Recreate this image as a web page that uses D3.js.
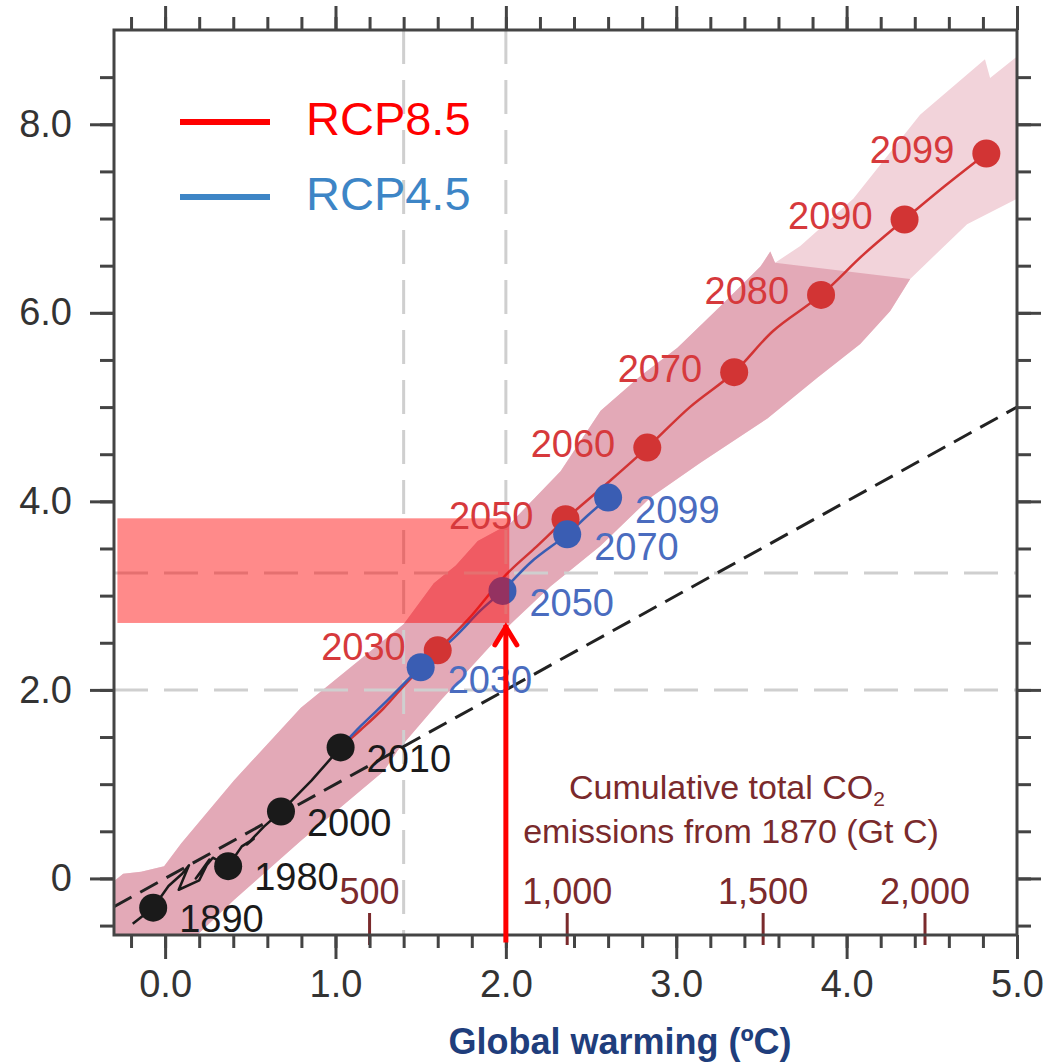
<!DOCTYPE html>
<html><head><meta charset="utf-8">
<script src="https://cdn.jsdelivr.net/npm/d3@7"></script>
<style>
html,body{margin:0;padding:0;background:#fff;}
text{font-family:"Liberation Sans",Arial,Helvetica,sans-serif;}
</style></head>
<body>
<svg id="chart" width="1045" height="1063"></svg>
<script>
// ---------- data ----------
const xMajorTicks = [0, 1, 2, 3, 4, 5];
const xMinorTicks = [-0.2,0,0.2,0.4,0.6,0.8,1,1.2,1.4,1.6,1.8,2,2.2,2.4,2.6,2.8,3,3.2,3.4,3.6,3.8,4,4.2,4.4,4.6,4.8,5];
const yMajorTicks = [0, 2, 4, 6, 8];
const yMajorLabels = ["0", "2.0", "4.0", "6.0", "8.0"];
const yMinorTicks = [-0.5,0,0.5,1,1.5,2,2.5,3,3.5,4,4.5,5,5.5,6,6.5,7,7.5,8,8.5];

const histYears = [1890, 1980, 2000, 2010];
const histX = [-0.07, 0.37, 0.68, 1.03];
const histY = [-0.31, 0.13, 0.71, 1.39];
const histPathX = [-0.19,-0.07,0.02,0.10,0.14,0.08,0.20,0.26,0.18,0.28,0.37,0.45,0.52,0.48,0.58,0.68,0.86,1.03];
const histPathY = [-0.48,-0.31,-0.08,0.05,0.14,-0.12,-0.02,0.20,0.00,0.22,0.13,0.34,0.42,0.36,0.55,0.71,1.04,1.39];

const rcp85Years = [2030, 2050, 2060, 2070, 2080, 2090, 2099];
const rcp85X = [1.60, 2.35, 2.83, 3.34, 3.85, 4.34, 4.82];
const rcp85Y = [2.42, 3.81, 4.57, 5.37, 6.19, 6.99, 7.69];
const rcp85PathX = [1.03,1.15,1.28,1.42,1.60,1.78,2.00,2.18,2.35,2.60,2.83,3.08,3.34,3.57,3.85,4.10,4.34,4.58,4.82];
const rcp85PathY = [1.39,1.58,1.80,2.08,2.42,2.75,3.22,3.52,3.81,4.20,4.57,5.00,5.37,5.81,6.19,6.62,6.99,7.35,7.69];

const rcp45Years = [2030, 2050, 2070, 2099];
const rcp45X = [1.50, 1.98, 2.36, 2.60];
const rcp45Y = [2.24, 3.05, 3.65, 4.04];
const rcp45PathX = [1.03,1.15,1.30,1.50,1.70,1.85,1.98,2.15,2.36,2.48,2.60];
const rcp45PathY = [1.39,1.62,1.88,2.24,2.56,2.84,3.05,3.36,3.65,3.85,4.04];

const plumeUpperX = [-0.293,-0.246,-0.141,-0.006,0.094,0.404,0.797,1.401,1.577,1.706,1.835,2.028,2.321,2.556,2.79,3.007,3.259,3.494,3.552,3.58,3.728,4.039,4.431,4.812,4.842,5.0];
const plumeUpperY = [-0.02,0.05,0.07,0.13,0.37,1.04,1.81,2.70,3.13,3.32,3.58,3.77,4.32,4.96,5.33,5.63,6.07,6.49,6.65,6.53,6.71,7.21,8.10,8.69,8.49,8.72];
const plumeLowerX = [5.0,4.707,4.373,4.256,4.080,3.828,3.535,3.142,2.849,2.556,2.263,2.028,1.618,1.366,1.284,0.797,0.404,0.188,-0.293];
const plumeLowerY = [7.21,6.94,6.36,6.02,5.67,5.31,4.88,4.41,4.04,3.53,3.10,2.70,1.89,1.36,1.14,0.40,-0.23,-0.60,-0.60];

const identityLineX = [-0.3, 5.0];
const identityLineY = [-0.3, 5.0];

const guideX = [1.4, 2.0];
const guideY = [2.0, 3.24];

const co2Labels = ["500", "1,000", "1,500", "2,000"];
const co2AtWarming = [1.20, 2.36, 3.51, 4.46];

const highlightX = [-0.28, 2.02];
const highlightY = [2.71, 3.82];
const arrowX = 2.0;
const arrowY = [-0.68, 2.71];

const legendNames = ["RCP8.5", "RCP4.5"];

// ---------- layout ----------
const svg = d3.select("#chart");
const L = 114, R = 1017, T = 30, B = 935;
const x = d3.scaleLinear().domain([-0.3, 5.0]).range([L, R]);
const y = d3.scaleLinear().domain([-0.6, 9.0]).range([B, T]);

const C = {
  red: "#d23434", redLabel: "#d6393c", blue: "#3a5db3", blueLabel: "#4a6cbf",
  black: "#1a1a1a", axis: "#444", co2: "#7a2a2c", guide: "#cfcfcf",
  plumeDark: "#e3a9b7", plumeLight: "#f2d3da"
};
const zip = (xs, ys) => xs.map((v, i) => [v, ys[i]]);

const plot = svg.append("g");
svg.append("clipPath").attr("id", "clip")
  .append("rect").attr("x", L).attr("y", T).attr("width", R - L).attr("height", B - T);
const inner = plot.append("g").attr("clip-path", "url(#clip)");

// plume
const upper = zip(plumeUpperX, plumeUpperY);
const lower = zip(plumeLowerX, plumeLowerY);
const poly = d3.line().x(d => x(d[0])).y(d => y(d[1]));
inner.append("path").attr("d", poly(upper.concat(lower)) + "Z").attr("fill", C.plumeLight);
inner.append("path").attr("d", poly(upper.slice(0, 20).concat(lower.slice(2))) + "Z").attr("fill", C.plumeDark);

// guides
guideX.forEach(v => inner.append("line").attr("x1", x(v)).attr("x2", x(v)).attr("y1", T).attr("y2", B)
  .attr("stroke", C.guide).attr("stroke-width", 3).attr("stroke-dasharray", "34,16"));
guideY.forEach(v => inner.append("line").attr("x1", L).attr("x2", R).attr("y1", y(v)).attr("y2", y(v))
  .attr("stroke", C.guide).attr("stroke-width", 3).attr("stroke-dasharray", "34,16"));

// identity dashed line
inner.append("path").attr("d", poly(zip(identityLineX, identityLineY)))
  .attr("stroke", "#222").attr("stroke-width", 3).attr("fill", "none").attr("stroke-dasharray", "20,10");

// trajectories
const curve = d3.line().x(d => x(d[0])).y(d => y(d[1])).curve(d3.curveCatmullRom.alpha(0.5));
inner.append("path").attr("d", poly(zip(histPathX, histPathY))).attr("stroke", C.black).attr("stroke-width", 2.5).attr("fill", "none").attr("stroke-linejoin", "round");
inner.append("path").attr("d", curve(zip(rcp85PathX, rcp85PathY))).attr("stroke", C.red).attr("stroke-width", 2.5).attr("fill", "none");
inner.append("path").attr("d", curve(zip(rcp45PathX, rcp45PathY))).attr("stroke", C.blue).attr("stroke-width", 2.5).attr("fill", "none");

// dots
const dotR = 14;
function dots(xs, ys, color) {
  plot.selectAll(null).data(zip(xs, ys)).enter().append("circle")
    .attr("cx", d => x(d[0])).attr("cy", d => y(d[1])).attr("r", dotR).attr("fill", color);
}
dots(histX, histY, C.black);
dots(rcp85X, rcp85Y, C.red);
dots(rcp45X, rcp45Y, C.blue);

// highlight rectangle
plot.append("rect").attr("x", x(highlightX[0])).attr("y", y(highlightY[1]))
  .attr("width", x(highlightX[1]) - x(highlightX[0])).attr("height", y(highlightY[0]) - y(highlightY[1]))
  .attr("fill", "rgba(255,0,0,0.46)");

// year labels
const FS = 38;
function labels(xs, ys, years, color, side, dx, dy) {
  plot.selectAll(null).data(years).enter().append("text")
    .attr("x", (d, i) => x(xs[i]) + dx).attr("y", (d, i) => y(ys[i]) + dy)
    .attr("dy", "0.35em").attr("text-anchor", side).attr("font-size", FS).attr("fill", color).text(d => d);
}
labels(histX, histY, histYears, C.black, "start", 26, 11);
labels(rcp85X, rcp85Y, rcp85Years, C.redLabel, "end", -32, -4);
labels(rcp45X, rcp45Y, rcp45Years, C.blueLabel, "start", 27, 12);

// CO2 axis
const co2 = plot.append("g");
co2.selectAll("line").data(co2AtWarming).enter().append("line")
  .attr("x1", d => x(d)).attr("x2", d => x(d)).attr("y1", B - 22).attr("y2", B + 10)
  .attr("stroke", C.co2).attr("stroke-width", 3);
co2.selectAll("text").data(co2Labels).enter().append("text")
  .attr("x", (d, i) => x(co2AtWarming[i])).attr("y", B - 31).attr("text-anchor", "middle")
  .attr("font-size", 36).attr("fill", C.co2).text(d => d);
const co2Title = co2.append("text").attr("x", 727).attr("y", 799).attr("text-anchor", "middle")
  .attr("font-size", 34).attr("fill", C.co2);
co2Title.append("tspan").text("Cumulative total CO");
co2Title.append("tspan").attr("font-size", 21).attr("dy", 7).text("2");
co2.append("text").attr("x", 731).attr("y", 843).attr("text-anchor", "middle")
  .attr("font-size", 34).attr("fill", C.co2).text("emissions from 1870 (Gt C)");

// axes
function styleAxis(g) {
  g.select(".domain").remove();
  g.selectAll(".tick line").attr("stroke", C.axis).attr("stroke-width", 3);
  g.selectAll(".tick text").attr("font-size", 38).attr("fill", "#333")
    .attr("font-family", '"Liberation Sans",Arial,Helvetica,sans-serif');
}
const ax = plot.append("g");
ax.append("g").attr("transform", `translate(0,${B})`)
  .call(d3.axisBottom(x).tickValues(xMinorTicks).tickSize(13).tickFormat("")).call(styleAxis);
ax.append("g").attr("transform", `translate(0,${B})`)
  .call(d3.axisBottom(x).tickValues(xMajorTicks).tickSize(24).tickPadding(11).tickFormat(d3.format(".1f"))).call(styleAxis);
ax.append("g").attr("transform", `translate(0,${T})`)
  .call(d3.axisTop(x).tickValues(xMinorTicks).tickSize(13).tickFormat("")).call(styleAxis);
ax.append("g").attr("transform", `translate(0,${T})`)
  .call(d3.axisTop(x).tickValues(xMajorTicks).tickSize(24).tickFormat("")).call(styleAxis);
ax.append("g").attr("transform", `translate(${L},0)`)
  .call(d3.axisLeft(y).tickValues(yMinorTicks).tickSize(14).tickFormat("")).call(styleAxis);
ax.append("g").attr("transform", `translate(${L},0)`)
  .call(d3.axisLeft(y).tickValues(yMajorTicks).tickSize(24).tickPadding(18).tickFormat((d, i) => yMajorLabels[i])).call(styleAxis);
ax.append("g").attr("transform", `translate(${R},0)`)
  .call(d3.axisRight(y).tickValues(yMinorTicks).tickSize(14).tickFormat("")).call(styleAxis);
ax.append("g").attr("transform", `translate(${R},0)`)
  .call(d3.axisRight(y).tickValues(yMajorTicks).tickSize(24).tickFormat("")).call(styleAxis);
ax.append("rect").attr("x", L).attr("y", T).attr("width", R - L).attr("height", B - T)
  .attr("fill", "none").attr("stroke", C.axis).attr("stroke-width", 3);

// arrow
const ag = plot.append("g").attr("stroke", "#ff0000").attr("stroke-width", 5).attr("fill", "none");
ag.append("line").attr("x1", x(arrowX)).attr("x2", x(arrowX)).attr("y1", y(arrowY[0])).attr("y2", y(arrowY[1]) + 2);
ag.append("path").attr("stroke-linecap", "round").attr("stroke-linejoin", "miter")
  .attr("d", `M${x(arrowX) - 11},${y(arrowY[1]) + 22} L${x(arrowX)},${y(arrowY[1]) + 4} L${x(arrowX) + 11},${y(arrowY[1]) + 22}`);

// legend
const legColors = ["#ff0000", "#3d85c6"];
const leg = svg.append("g");
legendNames.forEach((n, i) => {
  const ly = 122 + i * 75;
  leg.append("line").attr("x1", 180).attr("x2", 270).attr("y1", ly).attr("y2", ly)
    .attr("stroke", legColors[i]).attr("stroke-width", 6);
  leg.append("text").attr("x", 306).attr("y", ly + 13).attr("font-size", 47).attr("fill", legColors[i]).text(n);
});

// x title
svg.append("text").attr("x", 620).attr("y", 1054).attr("text-anchor", "middle")
  .attr("font-size", 36).attr("font-weight", "bold").attr("fill", "#1f3e7c").text("Global warming (ºC)");
</script>
</body></html>
